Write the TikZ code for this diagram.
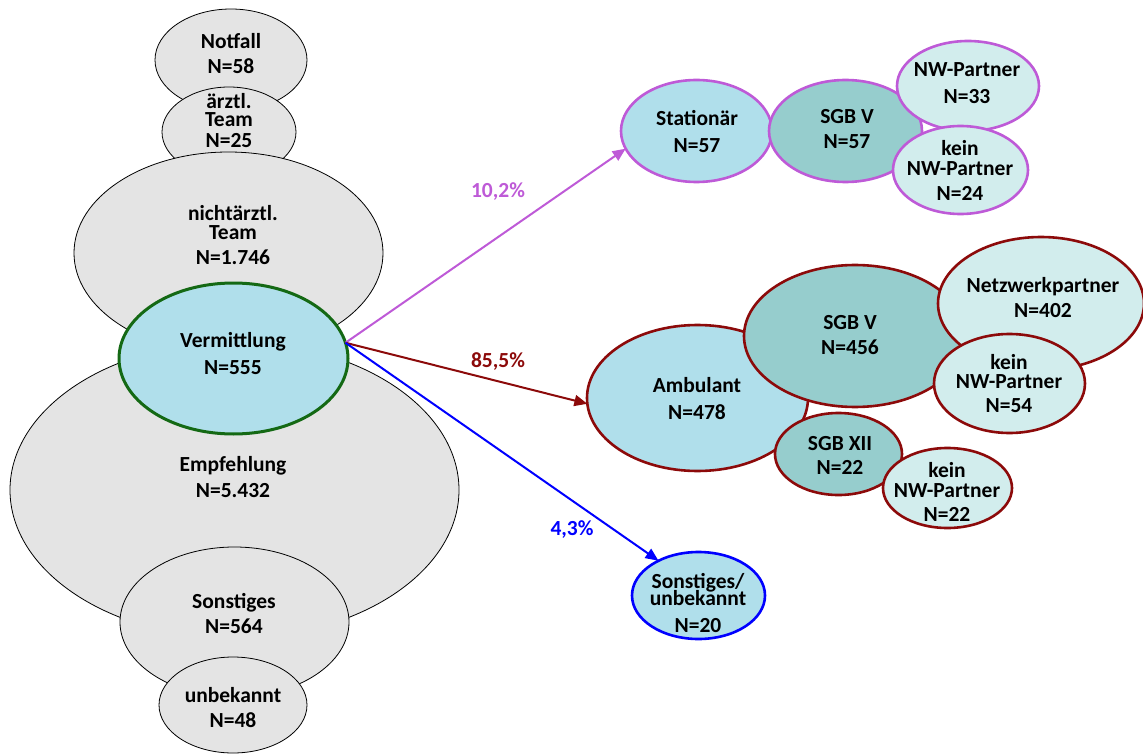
\documentclass[tikz,border=0pt]{standalone}
\usepackage{fontspec}
\setmainfont{Carlito}
\usetikzlibrary{shapes.geometric,arrows.meta}
\definecolor{grayfill}{RGB}{228,228,228}
\definecolor{lblue}{RGB}{176,223,235}
\definecolor{tealfill}{RGB}{150,205,205}
\definecolor{lcyan}{RGB}{210,237,237}
\definecolor{purp}{RGB}{190,90,215}
\definecolor{dred}{RGB}{140,10,10}
\definecolor{dgreen}{RGB}{20,105,20}
\definecolor{bblue}{RGB}{0,0,255}
\tikzset{
  ell/.style={ellipse, inner sep=0pt, outer sep=0pt},
  grayell/.style={ell, draw=black, line width=0.8pt, fill=grayfill},
  purpell/.style={ell, draw=purp, line width=2.6pt},
  redell/.style={ell, draw=dred, line width=2.6pt},
  txt/.style={align=center, inner sep=0pt, font=\fontsize{21.5}{20}\selectfont\bfseries},
  lbl/.style={inner sep=0pt, font=\fontsize{21.5}{20}\selectfont\bfseries},
  arr/.style={line width=2pt, -{Triangle[length=13pt,width=11pt]}}
}
\begin{document}
\begin{tikzpicture}[x=1pt,y=-1pt]
\useasboundingbox (0,0) rectangle (1143,754);
% left column
\node[grayell, minimum width=152pt, minimum height=102pt] (notfall) at (231,60) {};
\node[grayell, minimum width=134pt, minimum height=90pt] (aerztl) at (229,132) {};
\node[grayell, minimum width=309pt, minimum height=202pt] (nicht) at (228.5,253) {};
\node[grayell, minimum width=449pt, minimum height=296pt] (empf) at (234.5,490) {};
\node[grayell, minimum width=229pt, minimum height=150pt] (sonstL) at (234.5,622) {};
\node[grayell, minimum width=148pt, minimum height=96pt] (unbek) at (233,705) {};
\node[ell, fill=lblue, draw=dgreen, line width=3pt, minimum width=229pt, minimum height=151pt] (verm) at (233.5,358.5) {};
% stationaer cluster
\node[purpell, fill=lblue, minimum width=151pt, minimum height=102pt] (stat) at (696.5,131) {};
\node[purpell, fill=tealfill, minimum width=153pt, minimum height=102pt] (sgbv1) at (845.5,131) {};
\node[purpell, fill=lcyan, minimum width=142pt, minimum height=90pt] (nwp) at (968,86) {};
\node[purpell, fill=lcyan, minimum width=135pt, minimum height=88pt] (kein1) at (960.5,170) {};
% ambulant cluster
\node[redell, fill=lblue, minimum width=221pt, minimum height=146pt] (amb) at (697.5,398) {};
\node[redell, fill=tealfill, minimum width=222pt, minimum height=142pt] (sgbv2) at (855,336) {};
\node[redell, fill=tealfill, minimum width=127pt, minimum height=82pt] (sgbxii) at (838.5,454) {};
\node[redell, fill=lcyan, minimum width=206pt, minimum height=133pt] (netz) at (1041,303.5) {};
\node[redell, fill=lcyan, minimum width=151pt, minimum height=99pt] (kein2) at (1009.5,383.5) {};
\node[redell, fill=lcyan, minimum width=129pt, minimum height=80pt] (kein3) at (947.5,488) {};
% sonstiges
\node[ell, fill=lblue, draw=bblue, line width=2.6pt, minimum width=133pt, minimum height=87pt] (sonstR) at (698.5,595.5) {};
% texts
\node[txt] (t1) at (231,53.5) {Notfall\\[5pt]N=58};
\node[txt] (t2) at (229,120.5) {ärztl.\\[-2pt]Team\\[1pt]N=25};
\node[txt] (t3) at (233,235) {nichtärztl.\\[-1pt]Team\\[5pt]N=1.746};
\node[txt] (t4) at (233,353.5) {Vermittlung\\[7pt]N=555};
\node[txt] (t5) at (233,477) {Empfehlung\\[6pt]N=5.432};
\node[txt] (t6) at (234,613.5) {Sonstiges\\[5pt]N=564};
\node[txt] (t7) at (233,707.5) {unbekannt\\[5pt]N=48};
\node[txt] (t8) at (697,131.5) {Stationär\\[7pt]N=57};
\node[txt] (t9) at (847,129.5) {SGB V\\[5pt]N=57};
\node[txt] (t10) at (967,83.5) {NW-Partner\\[7pt]N=33};
\node[txt] (t11) at (960,170.5) {kein\\NW-Partner\\[5pt]N=24};
\node[txt] (t12) at (697,398.5) {Ambulant\\[7pt]N=478};
\node[txt] (t13) at (850,335.5) {SGB V\\[5pt]N=456};
\node[txt] (t14) at (1043,297.5) {Netzwerkpartner\\[5pt]N=402};
\node[txt] (t15) at (1009,383.5) {kein\\[-1pt]NW-Partner\\[4pt]N=54};
\node[txt] (t16) at (840,455) {SGB XII\\[4pt]N=22};
\node[txt] (t17) at (947,492) {kein\\NW-Partner\\[4pt]N=22};
\node[txt] (t18) at (698,603) {Sonstiges/\\[-3pt]unbekannt\\[7pt]N=20};
% arrows
\draw[arr, purp] (verm.8) -- (stat.194);
\draw[arr, dred] (verm.8) -- (amb.183);
\draw[arr, bblue] (verm.8) -- (sonstR.139);
\node[lbl, text=purp] (p1) at (498,192) {10,2\%};
\node[lbl, text=dred] (p2) at (498,362) {85,5\%};
\node[lbl, text=bblue] (p3) at (572,530) {4,3\%};
\end{tikzpicture}
\end{document}
